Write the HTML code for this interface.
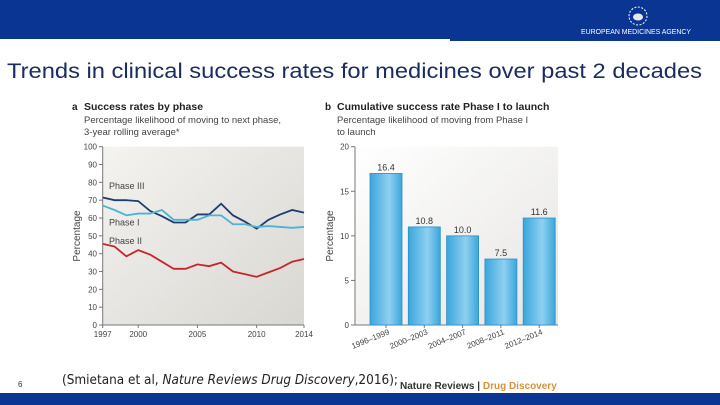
<!DOCTYPE html>
<html><head><meta charset="utf-8"><style>
body{margin:0;width:720px;height:405px;overflow:hidden;background:#fff;font-family:"Liberation Sans",sans-serif}
svg{display:block}
</style></head><body>
<svg width="720" height="405" viewBox="0 0 720 405" xmlns="http://www.w3.org/2000/svg" font-family="Liberation Sans, sans-serif">
<defs>
<linearGradient id="bg" x1="0" y1="0" x2="1" y2="1"><stop offset="0" stop-color="#f4f3f0"/><stop offset="1" stop-color="#d9d7d2"/></linearGradient>
<linearGradient id="bg2" x1="0" y1="0" x2="1" y2="1"><stop offset="0" stop-color="#ffffff"/><stop offset="1" stop-color="#e6e5e2"/></linearGradient>
<linearGradient id="bar" x1="0" y1="0" x2="1" y2="0"><stop offset="0" stop-color="#3aa6dc"/><stop offset="0.6" stop-color="#8fd0f0"/><stop offset="1" stop-color="#3aa6dc"/></linearGradient>
</defs>
<rect x="0" y="0" width="720" height="39" fill="#0a3592"/>
<rect x="450" y="39" width="270" height="2" fill="#0a3592"/>
<g>
<circle cx="638" cy="16" r="9" fill="none" stroke="#fff" stroke-dasharray="2 1.5" stroke-width="1"/>
<ellipse cx="638" cy="17" rx="5" ry="3.5" fill="#e8e8e8"/>
<text x="636" y="34" font-size="7" fill="#fff" text-anchor="middle" textLength="110" lengthAdjust="spacingAndGlyphs">EUROPEAN MEDICINES AGENCY</text>
</g>
<text x="7" y="78" font-size="21" fill="#1b2d60" textLength="695" lengthAdjust="spacingAndGlyphs">Trends in clinical success rates for medicines over past 2 decades</text>

<g>
<text x="72" y="110" font-size="10" font-weight="bold" fill="#222">a</text>
<text x="84" y="110" font-size="10.5" font-weight="bold" fill="#222">Success rates by phase</text>
<text x="84" y="123" font-size="9.5" fill="#444">Percentage likelihood of moving to next phase,</text>
<text x="84" y="135" font-size="9.5" fill="#444">3-year rolling average*</text>
<rect x="102.7" y="146.7" width="201.3" height="178.3" fill="url(#bg)"/>
<g id="aAxis"></g><g id="aLines"></g>
<text x="80" y="236" font-size="10" fill="#444" text-anchor="middle" transform="rotate(-90 80 236)">Percentage</text>
</g>
<g>
<text x="325" y="110" font-size="10" font-weight="bold" fill="#222">b</text>
<text x="337" y="110" font-size="10.5" font-weight="bold" fill="#222">Cumulative success rate Phase I to launch</text>
<text x="337" y="123" font-size="9.5" fill="#444">Percentage likelihood of moving from Phase I</text>
<text x="337" y="135" font-size="9.5" fill="#444">to launch</text>
<rect x="355" y="146.7" width="203" height="178.3" fill="url(#bg2)"/>
<g id="bAxis"></g><g id="bBars"></g>
<text x="333" y="236" font-size="10" fill="#444" text-anchor="middle" transform="rotate(-90 333 236)">Percentage</text>
</g>

<text x="18" y="387" font-size="8" fill="#333">6</text>
<text x="62" y="384" font-size="13" fill="#222" font-family="DejaVu Sans, sans-serif" textLength="336" lengthAdjust="spacingAndGlyphs">(Smietana et al, <tspan font-style="italic">Nature Reviews Drug Discovery</tspan>,2016);</text>
<text x="400" y="389" font-size="10" font-weight="bold" fill="#333">Nature Reviews | <tspan fill="#d9903a">Drug Discovery</tspan></text>
<rect x="0" y="393" width="720" height="12" fill="#0a3592"/>
</svg>
<script>
const years=[1997,1998,1999,2000,2001,2002,2003,2004,2005,2006,2007,2008,2009,2010,2011,2012,2013,2014];
const phase3=[71.5,70,70,69.5,64,61,57.5,57.5,62,62,68,61.5,58,54,59,62,64.5,63];
const phase1=[67,64.5,61.5,62.5,62.5,64.5,59,59,59,61.5,61.5,56.5,56.5,55,55.5,55,54.5,55];
const phase2=[45.5,44,38.5,42,39.5,35.5,31.5,31.5,34,33,35,30,28.5,27,29.5,32,35.5,37];
const aYTicks=[0,10,20,30,40,50,60,70,80,90,100];
const aXTicks=[1997,2000,2005,2010,2014];
const periods=["1996\u20131999","2000\u20132003","2004\u20132007","2008\u20132011","2012\u20132014"];
const barLabels=["16.4","10.8","10.0","7.5","11.6"];
const barHeights=[17,11,10,7.4,12];
const bYTicks=[0,5,10,15,20];

const NS="http://www.w3.org/2000/svg";
function mk(p,t,a){const e=document.createElementNS(NS,t);for(const k in a)e.setAttribute(k,a[k]);p.appendChild(e);return e;}
const ax=y=>102.7+(y-1997)/(2014-1997)*201.3;
const ay=v=>325-v/100*178.3;
const aA=document.getElementById('aAxis');
mk(aA,'line',{x1:102.7,y1:146.7,x2:102.7,y2:325,stroke:'#777'});
mk(aA,'line',{x1:102.7,y1:325,x2:304,y2:325,stroke:'#777'});
aYTicks.forEach(v=>{mk(aA,'line',{x1:99,x2:102.7,y1:ay(v),y2:ay(v),stroke:'#777'});
const t=mk(aA,'text',{x:97,y:ay(v)+3,'font-size':8,fill:'#444','text-anchor':'end'});t.textContent=v;

});
aXTicks.forEach(v=>{mk(aA,'line',{x1:ax(v),x2:ax(v),y1:325,y2:328,stroke:'#777'});
const t=mk(aA,'text',{x:ax(v),y:337,'font-size':8,fill:'#444','text-anchor':'middle'});t.textContent=v;

});
const aL=document.getElementById('aLines');
[[phase3,'#1c3f6e','phase-iii-line'],[phase1,'#4db3d4','phase-i-line'],[phase2,'#c8242c','phase-ii-line']].forEach(([d,c,n])=>{
const p=mk(aL,'polyline',{points:d.map((v,i)=>ax(years[i])+','+ay(v)).join(' '),fill:'none',stroke:c,'stroke-width':1.8});

});
[['Phase III',78],['Phase I',57.5],['Phase II',47]].forEach(([s,v])=>{const t=mk(aL,'text',{x:109,y:ay(v)+3,'font-size':9,fill:'#444'});t.textContent=s;

});

const bx=i=>370+i*38.3;
const by=v=>325-v/20*178.3;
const bA=document.getElementById('bAxis');
mk(bA,'line',{x1:355,y1:146.7,x2:355,y2:325,stroke:'#777'});
mk(bA,'line',{x1:355,y1:325,x2:558,y2:325,stroke:'#777'});
bYTicks.forEach(v=>{mk(bA,'line',{x1:351,x2:355,y1:by(v),y2:by(v),stroke:'#777'});
const t=mk(bA,'text',{x:349,y:by(v)+3,'font-size':8,fill:'#444','text-anchor':'end'});t.textContent=v;

});
const bB=document.getElementById('bBars');
barHeights.forEach((v,i)=>{
const r=mk(bB,'rect',{x:bx(i),y:by(v),width:32,height:325-by(v),fill:'url(#bar)',stroke:'#2a8fc6','stroke-width':0.8});


const l=mk(bB,'text',{x:bx(i)+16,y:by(v)-3,'font-size':9,fill:'#333','text-anchor':'middle'});l.textContent=barLabels[i];


mk(bA,'line',{x1:bx(i)+16,x2:bx(i)+16,y1:325,y2:328,stroke:'#777'});
const c=mk(bA,'text',{x:bx(i)+20,y:334,'font-size':8,fill:'#444','text-anchor':'end',transform:`rotate(-22 ${bx(i)+20} 334)`});c.textContent=periods[i];

});
</script>
</body></html>
